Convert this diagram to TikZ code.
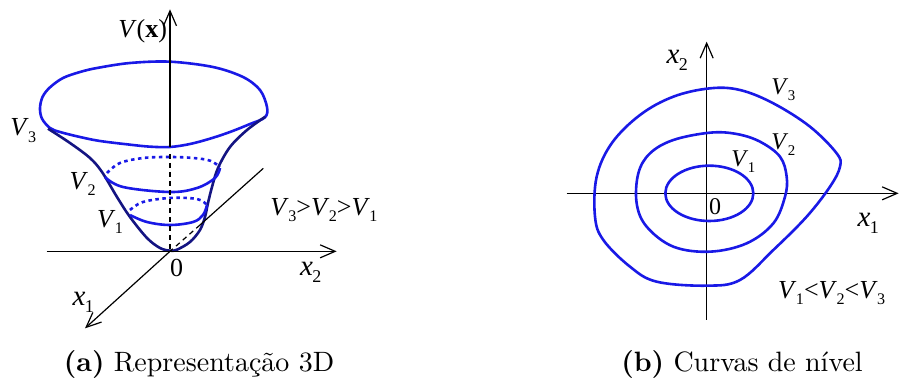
\documentclass[tikz,border=0pt]{standalone}
\usepackage{fontspec}
\usepackage{graphicx}
\newfontfamily\tms{Liberation Serif}
\usetikzlibrary{arrows.meta}
\definecolor{cblue}{RGB}{25,25,230}
\definecolor{cnavy}{RGB}{20,20,130}
\newcommand\sbx[1]{\kern-0.02em\raisebox{-0.24em}{\scalebox{0.62}{#1}}}
\newcommand\Vlab[1]{\textit{V}\sbx{#1}}
\newcommand\Xlab[1]{\textit{x}\sbx{#1}}
\tikzset{
  axis/.style={line width=1.2pt, black},
  axarrow/.style={axis, -{Straight Barb[length=15pt,width=13pt,line width=1.2pt]}},
  hidden/.style={axis, dash pattern=on 5pt off 4pt},
  curve/.style={line width=2.6pt, cblue},
  silh/.style={line width=2.6pt, cnavy},
  dotcurve/.style={line width=2.6pt, cblue, dash pattern=on 3.5pt off 3.5pt},
  lbl/.style={inner sep=0pt, font=\tms\fontsize{26}{30}\selectfont},
  lblx/.style={inner sep=0pt, font=\tms\fontsize{29}{32}\selectfont},
  lbls/.style={inner sep=0pt, font=\tms\fontsize{24}{28}\selectfont},
  captext/.style={inner sep=0pt, anchor=base, font=\fontsize{10}{12}\selectfont}
}
\begin{document}
\begin{tikzpicture}[x=1pt,y=-1pt]
\useasboundingbox (0,0) rectangle (899,383);
% ---------- left panel ----------
\begin{scope}[scale=1/3]
  \coordinate (vtop) at (510,28);
  \coordinate (vmid) at (510,440);
  \coordinate (vdash) at (510,462);
  \coordinate (o) at (510,754);
  \coordinate (x2l) at (140,754);
  \coordinate (x2r) at (1010,754);
  \coordinate (x1a) at (790,505);
  \coordinate (x1b) at (600,675);
  \coordinate (x1end) at (255,985);
  % top rim
  \draw[curve] plot[smooth cycle, tension=0.55] coordinates {(120,324) (128,290) (150,262) (189,234) (240,216) (291,204) (390,189) (510,185) (639,201) (729,231) (780,270) (801,321) (795,352) (750,372) (690,396) (630,416) (570,432) (510,441) (450,440) (390,434) (300,423) (240,411) (180,396) (150,384) (126,356)};
  % silhouette
  \draw[silh] plot[smooth, tension=0.55] coordinates {(144,386) (210,429) (270,474) (306,516) (351,591) (390,651) (441,714) (480,744) (510,752) (531,749) (570,726) (600,690) (615,651) (624,609) (636,561) (654,504) (690,441) (741,390) (796,350)};
  % V2 ring
  \draw[dotcurve] plot[smooth, tension=0.6] coordinates {(321,519) (360,489) (430,474) (510,471) (580,474) (630,482) (660,501)};
  \draw[curve] plot[smooth, tension=0.6] coordinates {(315,531) (369,561) (510,576) (591,564) (645,534) (660,504)};
  % V1 ring
  \draw[dotcurve] plot[smooth, tension=0.6] coordinates {(390,630) (429,606) (510,594) (591,597) (621,615)};
  \draw[curve] plot[smooth, tension=0.6] coordinates {(390,645) (441,666) (510,675) (579,666) (609,645) (621,615)};
  % axes
  \draw[axarrow] (vmid) -- (vtop);
  \draw[hidden] (vdash) -- (o);
  \draw[axarrow] (x2l) -- (x2r);
  \draw[axis] (x1a) -- (x1b);
  \draw[hidden] (x1b) -- (o);
  \draw[axarrow] (o) -- (x1end);
  % labels
  \node[lbl] (lv) at (428,95) {\textit{V}(\textbf{x})};
  \node[lbl] (l0) at (530,805) {0};
  \node[lblx] (lx2) at (932,818) {\Xlab{2}};
  \node[lblx] (lx1) at (250,908) {\Xlab{1}};
  \node[lbl] (lV3) at (70,392) {\Vlab{3}};
  \node[lbl] (lV2) at (248,552) {\Vlab{2}};
  \node[lbl] (lV1) at (330,665) {\Vlab{1}};
  \node[lbl] (lrel) at (972,630) {\Vlab{3}>\Vlab{2}>\Vlab{1}};
\end{scope}
% ---------- right panel ----------
\begin{scope}[shift={(540,30)},scale=1/3]
  \coordinate (rvb) at (500,870);
  \coordinate (rvt) at (500,35);
  \coordinate (rhl) at (80,490);
  \coordinate (rhr) at (1076,490);
  \draw[axarrow] (rvb) -- (rvt);
  \draw[axarrow] (rhl) -- (rhr);
  \draw[curve] (508,490) ellipse (132 and 83);
  \draw[curve] plot[smooth cycle, tension=0.6] coordinates {(510,308) (400,330) (330,370) (295,430) (290,520) (320,590) (400,650) (510,665) (620,640) (700,580) (735,500) (740,440) (720,380) (660,335) (590,312)};
  \draw[curve] plot[smooth cycle, tension=0.6] coordinates {(510,175) (400,200) (300,255) (215,340) (170,440) (165,560) (190,630) (270,710) (350,755) (500,767) (600,750) (700,660) (800,560) (870,470) (900,410) (890,370) (810,290) (700,220) (600,180)};
  \node[lblx] (rx2) at (412,92) {\Xlab{2}};
  \node[lblx] (rx1) at (985,580) {\Xlab{1}};
  \node[lbls] (r0) at (525,530) {0};
  \node[lbls] (rV1) at (610,395) {\Vlab{1}};
  \node[lbls] (rV2) at (730,345) {\Vlab{2}};
  \node[lbls] (rV3) at (730,180) {\Vlab{3}};
  \node[lbl] (rrel) at (875,790) {\Vlab{1}<\Vlab{2}<\Vlab{3}};
\end{scope}
% captions
\node[captext] (capa) at (199,371) {\scalebox{2.8}{\textbf{(a)} Representação 3D}};
\node[captext] (capb) at (742,371) {\scalebox{2.8}{\textbf{(b)} Curvas de nível}};
\end{tikzpicture}
\end{document}
